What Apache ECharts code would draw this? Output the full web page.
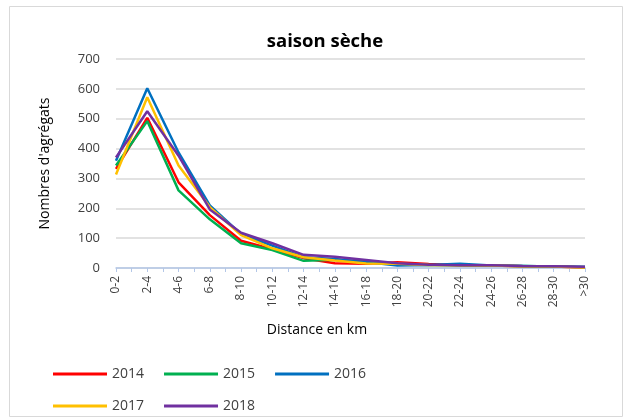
<!DOCTYPE html>
<html><head><meta charset="utf-8">
<script src="https://cdn.jsdelivr.net/npm/echarts@6/dist/echarts.min.js"></script>
<style>html,body{margin:0;padding:0;background:#fff}#c{width:625px;height:419px}</style>
</head><body><div id="c"></div>
<script>
var categories = ['0-2','2-4','4-6','6-8','8-10','10-12','12-14','14-16','16-18','18-20','20-22','22-24','24-26','26-28','28-30','>30'];
var s2014 = [332, 503, 287, 177, 91, 63, 33, 16, 14, 19, 13, 9, 8, 6, 5, 2];
var s2015 = [343, 492, 260, 163, 83, 60, 24, 28, 20, 12, 10, 9, 8, 7, 5, 3];
var s2016 = [359, 602, 387, 210, 113, 75, 36, 30, 20, 8, 10, 14, 8, 7, 5, 3];
var s2017 = [313, 572, 343, 204, 110, 66, 36, 25, 15, 14, 10, 9, 8, 6, 5, 2];
var s2018 = [370, 525, 376, 196, 118, 83, 44, 38, 27, 16, 11, 9, 9, 7, 6, 4];
var yTicks = [0, 100, 200, 300, 400, 500, 600, 700];
var seriesNames = ['2014','2015','2016','2017','2018'];
var colors = ['#FF0000','#00B050','#0070C0','#FFC000','#7030A0'];
var values = [s2014, s2015, s2016, s2017, s2018];
var halfTicks = [];
for (var i = 0; i < categories.length * 2 - 1; i++) halfTicks.push(String(i));

var chart = echarts.init(document.getElementById('c'));
var font = "'Open Sans', 'Liberation Sans', sans-serif";
chart.setOption({
  animation: false,
  textStyle: {fontFamily: font},
  title: {text: 'saison sèche', left: 320, top: 27, textAlign: 'center',
    textStyle: {fontSize: 18.5, fontWeight: 'bold', color: '#000', fontFamily: font}},
  graphic: [
    {type: 'rect', shape: {x: 9.5, y: 6.5, width: 613, height: 410}, style: {fill: 'none', stroke: '#D9D9D9', lineWidth: 1}, silent: true},
    {type: 'text', style: {text: 'Distance en km', x: 317, y: 330, textAlign: 'center', textVerticalAlign: 'middle', font: '14px ' + font, fill: '#000'}}
  ],
  grid: {left: 116, right: 40, top: 59, bottom: 151},
  xAxis: [{
    type: 'category', data: categories, boundaryGap: false,
    axisLine: {lineStyle: {color: '#B4C7E7', width: 1.5}},
    axisTick: {show: true, length: 4, lineStyle: {color: '#B4C7E7'}},
    axisLabel: {rotate: 90, color: '#404040', fontSize: 12, margin: 8, interval: 0, fontFamily: font}
  }, {
    type: 'category', data: halfTicks, boundaryGap: false, position: 'bottom',
    axisLine: {show: false},
    axisTick: {show: true, length: 4, interval: 0, lineStyle: {color: '#B4C7E7'}},
    axisLabel: {show: false}
  }],
  yAxis: {
    type: 'value', min: 0, max: 700, interval: 100,
    axisLine: {show: false}, axisTick: {show: false},
    axisLabel: {color: '#404040', fontSize: 13, margin: 16, fontFamily: font,
      formatter: function (v) { return yTicks.indexOf(v) >= 0 ? String(v) : ''; }},
    splitLine: {lineStyle: {color: '#D9D9D9', width: 1.5}},
    name: "Nombres d'agrégats", nameLocation: 'middle', nameGap: 64,
    nameTextStyle: {fontSize: 14, color: '#000', fontFamily: font}
  },
  legend: [{
    data: seriesNames.slice(0, 3), left: 48, top: 362, itemWidth: 54, itemHeight: 3, itemGap: 20,
    icon: 'rect', textStyle: {fontSize: 14, color: '#404040', fontFamily: font}
  }, {
    data: seriesNames.slice(3), left: 48, top: 394, itemWidth: 54, itemHeight: 3, itemGap: 20,
    icon: 'rect', textStyle: {fontSize: 14, color: '#404040', fontFamily: font}
  }],
  series: seriesNames.map(function (n, k) {
    return {name: n, type: 'line', data: values[k], symbol: 'none', color: colors[k],
      lineStyle: {width: 2.5, color: colors[k]}, z: 2 + k};
  })
});
</script></body></html>
